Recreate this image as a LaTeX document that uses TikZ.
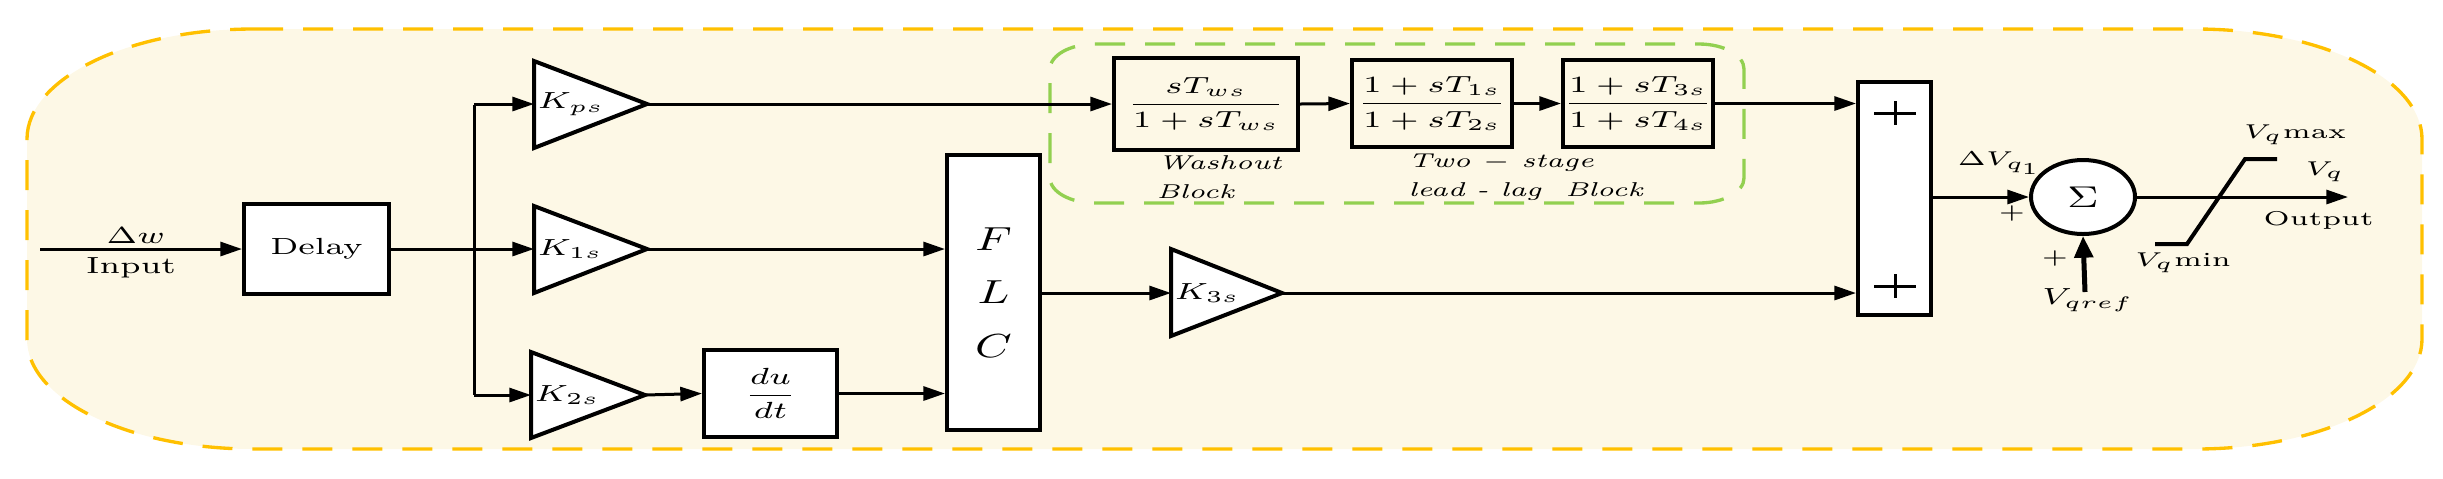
\documentclass[tikz,border=0pt]{standalone}
\usepackage{amsmath}
\usetikzlibrary{arrows.meta,shapes.geometric}
\definecolor{bgc}{HTML}{FDF8E6}
\definecolor{orng}{HTML}{FFC000}
\definecolor{grn}{HTML}{92D050}
\newcommand\sx[1]{\scalebox{1.4}[1]{#1}}
\newcommand\rrect[7]{% style, x0,y0,x1,y1,rx,ry
  \draw[#1] (#2+#6,#3) -- (#4-#6,#3) .. controls (#4-0.45*#6,#3) and (#4,#3+0.45*#7) .. (#4,#3+#7)
  -- (#4,#5-#7) .. controls (#4,#5-0.45*#7) and (#4-0.45*#6,#5) .. (#4-#6,#5)
  -- (#2+#6,#5) .. controls (#2+0.45*#6,#5) and (#2,#5-0.45*#7) .. (#2,#5-#7)
  -- (#2,#3+#7) .. controls (#2,#3+0.45*#7) and (#2+0.45*#6,#3) .. (#2+#6,#3) -- cycle;}
\begin{document}
\begin{tikzpicture}[x=0.3pt,y=-0.3pt,
  conn/.style={line width=0.9pt,-{Triangle[length=6.5pt,width=4.2pt]}},
  ln/.style={line width=0.9pt},
  blk/.style={draw,line width=1.2pt,fill=white,inner sep=0pt,font=\fontsize{7}{8}\selectfont},
  tri/.style={draw,line width=1.2pt,fill=white},
  lbl/.style={inner sep=0pt,font=\fontsize{7}{8}\selectfont},
  small/.style={inner sep=0pt,font=\fontsize{6}{7}\selectfont}]
\useasboundingbox (0,0) rectangle (2443,478);
\rrect{fill=bgc,draw=orng,line width=1pt,dash pattern=on 9pt off 6pt}{27}{29}{2422}{449}{226}{110}
\rrect{draw=grn,line width=1pt,dash pattern=on 9pt off 6pt}{1050}{44}{1744}{203}{45}{25}

% triangles
\draw[tri] (534,61) -- (647,104) -- (534,148) -- cycle;
\draw[tri] (534,206) -- (647,249) -- (534,293) -- cycle;
\draw[tri] (531,352) -- (645,395) -- (531,438) -- cycle;
\draw[tri] (1171,249) -- (1282,293) -- (1171,336) -- cycle;
\coordinate (kpsA) at (647,104); \coordinate (kpsL) at (534,104);
\coordinate (k1A) at (647,249); \coordinate (k1L) at (534,249);
\coordinate (k2A) at (645,395); \coordinate (k2L) at (531,395);
\coordinate (k3A) at (1282,293); \coordinate (k3L) at (1171,293);
\node[lbl,anchor=west] (tkps) at (537,104) {\sx{$K_{ps}$}};
\node[lbl,anchor=west] (tk1) at (537,249) {\sx{$K_{1s}$}};
\node[lbl,anchor=west] (tk2) at (534,395) {\sx{$K_{2s}$}};
\node[lbl,anchor=west] (tk3) at (1174,293) {\sx{$K_{3s}$}};

% blocks
\node[blk,minimum width=43.5pt,minimum height=27pt] (delay) at (316.5,249) {\sx{Delay}};
\node[blk,minimum width=39.9pt,minimum height=26.1pt] (dudt) at (770.5,393.5) {\sx{$\dfrac{du}{dt}$}};
\node[blk,minimum width=27.9pt,minimum height=82.5pt,font=\fontsize{10}{16}\selectfont,align=center] (flc) at (993.5,292.5) {\sx{$F$}\\\sx{$L$}\\\sx{$C$}};
\node[blk,fill=none,minimum width=55.2pt,minimum height=27.6pt] (wo) at (1206,104) {\sx{$\dfrac{sT_{ws}}{1+sT_{ws}}$}};
\node[blk,fill=none,minimum width=48pt,minimum height=26.1pt] (ll1) at (1432,103.5) {\sx{$\dfrac{1+sT_{1s}}{1+sT_{2s}}$}};
\node[blk,fill=none,minimum width=45pt,minimum height=26.1pt] (ll2) at (1638,103.5) {\sx{$\dfrac{1+sT_{3s}}{1+sT_{4s}}$}};
\node[blk,minimum width=21.9pt,minimum height=69.9pt] (sum) at (1894.5,198.5) {};
\draw[line width=0.9pt] (1874,113) -- (1916,113) (1895,101) -- (1895,125);
\draw[line width=0.9pt] (1874,286) -- (1916,286) (1895,274) -- (1895,298);
\node[draw,ellipse,line width=1.2pt,fill=white,inner sep=0pt,minimum width=31.2pt,minimum height=22.2pt] (circ) at (2083,197) {\sx{\fontsize{9}{9}\selectfont$\Sigma$}};

% labels
\node[lbl] (dw) at (136,236) {\sx{$\Delta w$}};
\node[lbl] (inp) at (131,268) {\sx{Input}};
\node[small] (wash) at (1220,163) {\sx{\itshape Washout}};
\node[small,anchor=west] (blk1) at (1156,192) {\sx{\itshape Block}};
\node[small,anchor=west] (two) at (1408,163) {\sx{\itshape Two $-$ stage}};
\node[small,anchor=west] (lead) at (1408,192) {\sx{\itshape lead - lag\ \ Block}};
\node[small] (dvq) at (2000,163) {\sx{$\Delta V_{q_1}$}};
\node[small] (p1) at (2012,213) {\sx{$+$}};
\node[small] (p2) at (2055,258) {\sx{$+$}};
\node[lbl] (vqref) at (2088,300) {\sx{$V_{qref}$}};
\node[small] (vqmax) at (2295,135) {\sx{$V_q$max}};
\node[small] (vq) at (2325,172) {\sx{$V_q$}};
\node[small,anchor=west] (outp) at (2263,220) {\sx{Output}};
\node[small] (vqmin) at (2183,263) {\sx{$V_q$min}};

% connectors
\coordinate (in) at (40,249);
\coordinate (br) at (474,249);
\draw[conn] (in) -- (delay.west);
\draw[ln] (delay.east) -- (br);
\draw[ln] (474,105) -- (474,395);
\draw[conn] (474,104) -- (kpsL);
\draw[conn] (br) -- (k1L);
\draw[conn] (474,395) -- (k2L);
\draw[conn] (k1A) -- (k1A -| flc.west);
\draw[conn] (k2A) -- (dudt.west);
\draw[conn] (dudt.east) -- (dudt.east -| flc.west);
\draw[conn] (flc.east |- k3L) -- (k3L);
\draw[conn] (kpsA) -- (wo.west);
\draw[conn] (wo.east) -- (ll1.west);
\draw[conn] (ll1.east) -- (ll2.west);
\draw[conn] (ll2.east) -- (ll2.east -| sum.west);
\draw[conn] (k3A) -- (k3A -| sum.west);
\draw[conn] (sum.east |- circ.west) -- (circ.west);
\coordinate (out) at (2348,197);
\draw[conn] (circ.east) -- (out);
\coordinate (ref) at (2085,292);
\draw[line width=1.5pt,-{Triangle[length=6.5pt,width=5.5pt]}] (ref) -- (circ.south);
\draw[line width=1.2pt] (2155,244) -- (2187,244) -- (2245,159) -- (2277,159);
\end{tikzpicture}
\end{document}
